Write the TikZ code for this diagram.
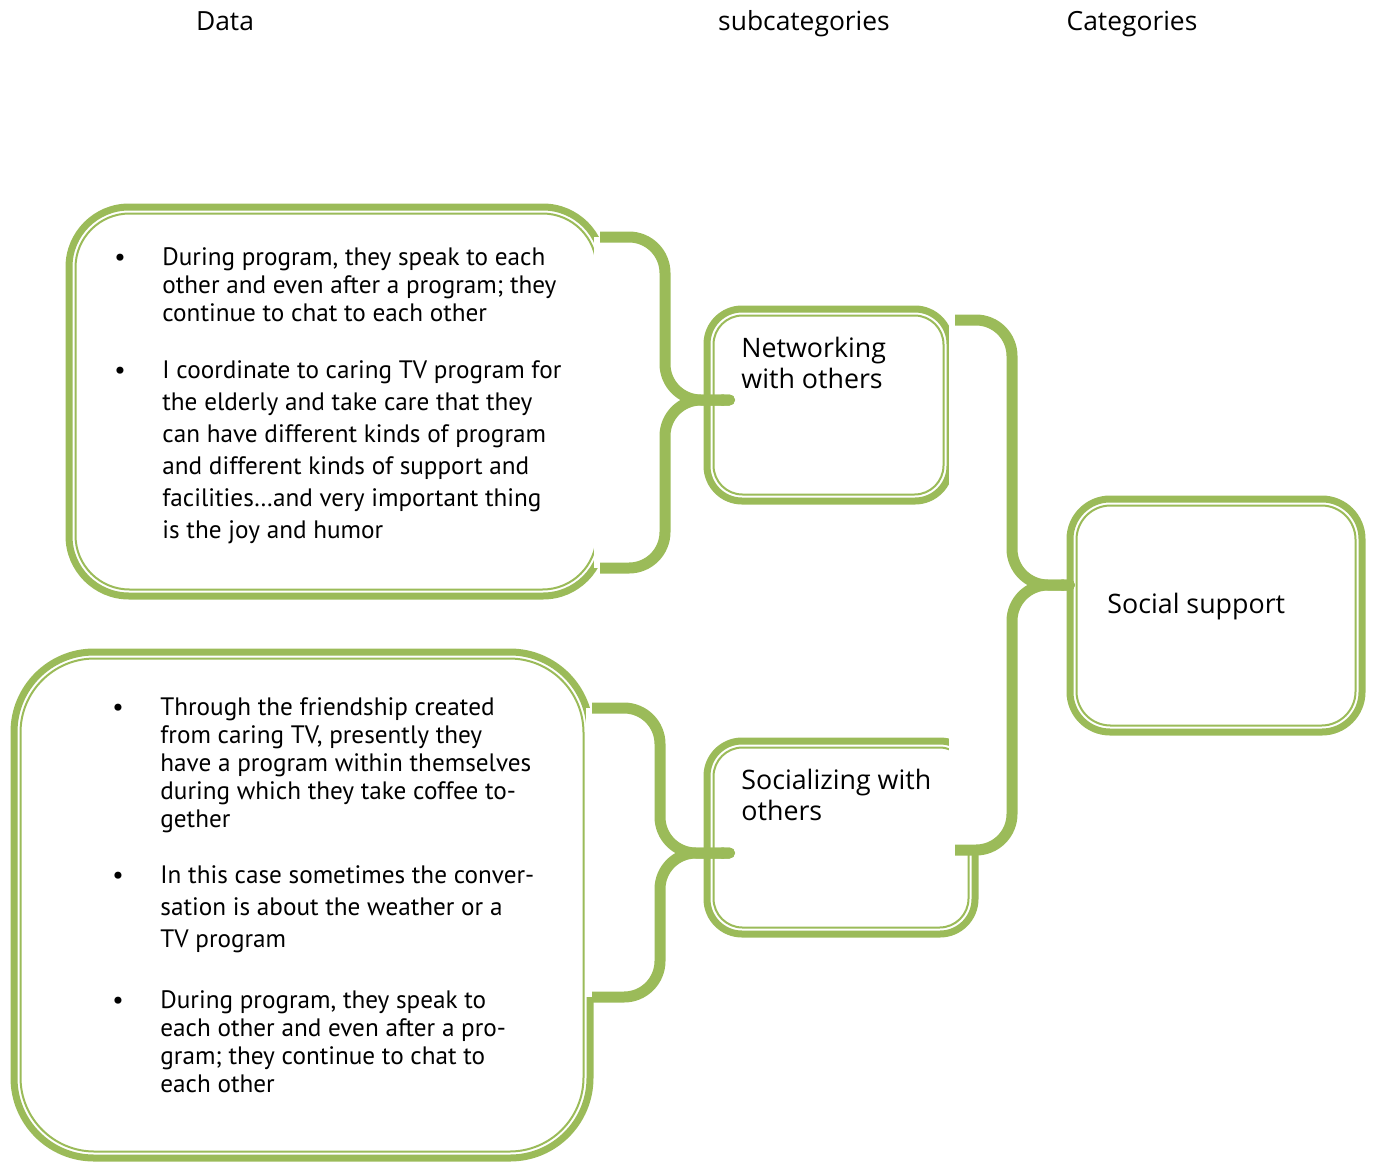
\documentclass[tikz,border=0pt]{standalone}
\usepackage{fontspec}
\setmainfont{PT Sans}
\newfontfamily\labelfont{Open Sans}
\usepackage{tikz}
\usetikzlibrary{arrows.meta}
\definecolor{leaf}{RGB}{155,187,89}
\newcommand{\linestack}[1]{\begin{tabular}[t]{@{}l@{}}#1\end{tabular}}

\tikzstyle{greenbox}=[
   rectangle,
   draw=leaf,
   line width=3.5pt,
   fill=white,
   outer sep=0pt,
   inner sep=0pt,
   anchor=north west
]
\tikzstyle{head}=[anchor=base, inner sep=0pt, font=\labelfont\fontsize{13.2}{15}\selectfont]
\tikzstyle{sublabel}=[anchor=base west, inner sep=0pt, font=\labelfont\fontsize{13.4}{15.5}\selectfont]
\tikzstyle{bulletmark}=[anchor=base, inner sep=0pt, font=\fontsize{12.6}{14}\selectfont]
\tikzstyle{bullettext}=[anchor=base west, inner sep=0pt, font=\fontsize{12.6}{14}\selectfont]
\tikzstyle{looseitem}=[bullettext, font=\fontsize{12.6}{16}\selectfont]
\tikzstyle{curly}=[draw=leaf, line width=5.5pt, rounded corners=18pt]

\begin{document}
\begin{tikzpicture}[x=0.5pt,y=-0.5pt]
  \useasboundingbox (0,0) rectangle (1375,1162);

  % column titles
  \node[head] (hdata) at (225,30)  {Data};
  \node[head] (hsub)  at (804,30)  {subcategories};
  \node[head] (hcat)  at (1132,30) {Categories};

  % boxes
  \node[greenbox, rounded corners=30pt, minimum width=267pt, minimum height=194.5pt] (d1) at (69,207) {};
  \node[greenbox, rounded corners=40pt, minimum width=288pt, minimum height=253pt]   (d2) at (14,652) {};
  \node[greenbox, rounded corners=17.5pt, minimum width=121.5pt, minimum height=96pt] (s1) at (707,309) {};
  \node[greenbox, rounded corners=17.5pt, minimum width=134pt, minimum height=96.5pt] (s2) at (707,741) {};
  \node[greenbox, rounded corners=20pt, minimum width=146pt, minimum height=116.5pt]  (c1) at (1070,499) {};

  % thin inner border
  \foreach \n/\r in {d1/27, d2/37, s1/14.5, s2/14.5, c1/17}
    \draw[leaf, line width=1pt, rounded corners=\r pt]
      ([shift={(3.25pt,-3.25pt)}]\n.north west) rectangle ([shift={(-3.25pt,3.25pt)}]\n.south east);

  % braces
  \coordinate (t1) at ([shift={(-1.5pt,-15pt)}]d1.north east);
  \coordinate (u1) at ([shift={(-1.5pt,14pt)}]d1.south east);
  \coordinate (k1) at ([shift={(14pt,2.5pt)}]s1.west);
  \coordinate (m1) at ([xshift=-35pt]k1);

  \coordinate (t2) at ([shift={(1pt,-28pt)}]d2.north east);
  \coordinate (u2) at ([shift={(1pt,80.5pt)}]d2.south east);
  \coordinate (k2) at ([shift={(14pt,-7.75pt)}]s2.west);
  \coordinate (m2) at ([xshift=-37.5pt]k2);

  \coordinate (t3) at ([shift={(2.5pt,-5.5pt)}]s1.north east);
  \coordinate (u3) at ([shift={(-10pt,-6.25pt)}]s2.east);
  \coordinate (k3) at ([shift={(2.5pt,15.25pt)}]c1.west);
  \coordinate (m3) at ([xshift=-31.5pt]k3);

  \foreach \b in {1,2,3}{
    \fill[white] ([xshift=-3pt]t\b) rectangle (u\b -| m\b);
    \draw[curly, -{Round Cap[]}] (t\b) -- (t\b -| m\b) -- (m\b) -- (k\b);
    \draw[curly, {Round Cap[]}-] (k\b) -- (m\b) -- (u\b -| m\b) -- (u\b);
  }

  % texts
  \node[sublabel] (ts1) at (741,357)  {\linestack{Networking\\with others}};
  \node[sublabel] (ts2) at (741,789)  {\linestack{Socializing with\\others}};
  \node[sublabel] (tc1) at (1107,613) {Social support};

  \node[bulletmark] (p1) at (120,265) {\textbullet};
  \node[bullettext] (q1) at (162,265) {\linestack{During program, they speak to each\\other and even after a program; they\\continue to chat to each other}};
  \node[bulletmark] (p2) at (120,378) {\textbullet};
  \node[looseitem]  (q2) at (162,378) {\linestack{I coordinate to caring TV program for\\the elderly and take care that they\\can have different kinds of program\\and different kinds of support and\\facilities\dots and very important thing\\is the joy and humor}};

  \node[bulletmark] (p3) at (118,715)  {\textbullet};
  \node[bullettext] (q3) at (160,715)  {\linestack{Through the friendship created\\from caring TV, presently they\\have a program within themselves\\during which they take coffee to-\\gether}};
  \node[bulletmark] (p4) at (118,883)  {\textbullet};
  \node[looseitem]  (q4) at (160,883)  {\linestack{In this case sometimes the conver-\\sation is about the weather or a\\TV program}};
  \node[bulletmark] (p5) at (118,1008) {\textbullet};
  \node[bullettext] (q5) at (160,1008) {\linestack{During program, they speak to\\each other and even after a pro-\\gram; they continue to chat to\\each other}};

\end{tikzpicture}
\end{document}
